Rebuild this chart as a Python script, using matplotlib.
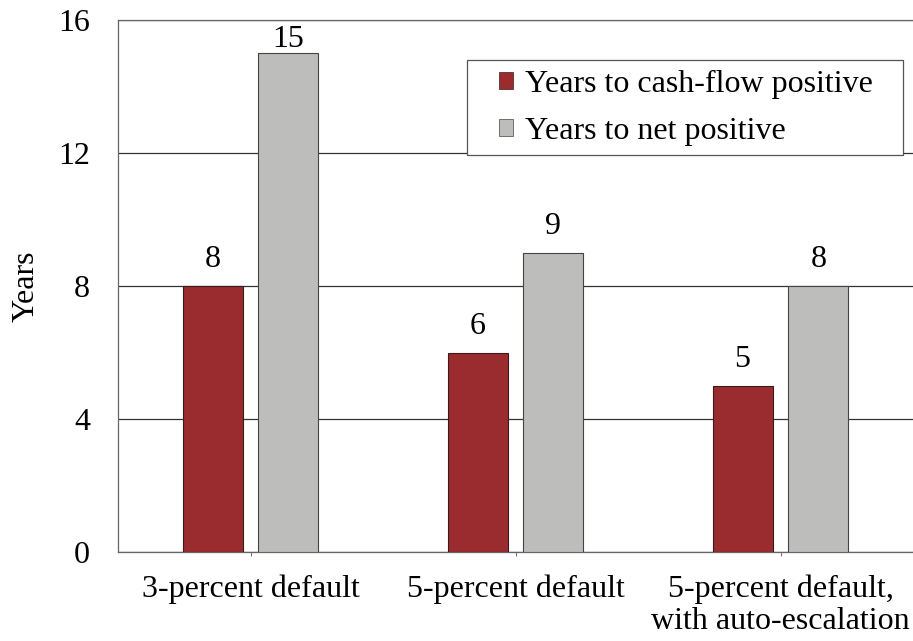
import matplotlib
matplotlib.use("Agg")
import matplotlib.pyplot as plt
from matplotlib.patches import Rectangle
import numpy as np

# Data
categories = ["3-percent default", "5-percent default", "5-percent default,\nwith auto-escalation"]
cash_flow_positive = [8, 6, 5]
net_positive = [15, 9, 8]
series_names = ["Years to cash-flow positive", "Years to net positive"]
y_ticks = [0, 4, 8, 12, 16]

RED = '#9a2b2f'
GRAY = '#bdbdbb'
FS = 23
W, H = 913, 641

plt.rcParams['font.family'] = ['Liberation Serif', 'DejaVu Serif']

fig = plt.figure(figsize=(W / 100, H / 100), dpi=100)
ax = fig.add_axes([118 / W, 1 - 552 / H, 795 / W, 532 / H])

x = np.arange(len(categories))
width = 0.226
offset = 0.143

bars1 = ax.bar(x - offset, cash_flow_positive, width, color=RED, edgecolor='#3a1a1a',
               linewidth=0.8, label=series_names[0], zorder=3)
bars2 = ax.bar(x + offset, net_positive, width, color=GRAY, edgecolor='#444444',
               linewidth=0.8, label=series_names[1], zorder=3)

# value labels (the tallest one squeezed under the top line)
for bars in (bars1, bars2):
    for b in bars:
        h = b.get_height()
        ax.text(b.get_x() + b.get_width() / 2, min(h + 0.57, 15.18), str(int(h)),
                ha='center', va='baseline', fontsize=FS)

ax.set_xlim(-0.5, len(categories) - 0.5)
ax.set_ylim(0, 16)
ax.set_yticks(y_ticks)
ax.set_yticklabels([str(t) for t in y_ticks], fontsize=FS)
ax.tick_params(axis='y', length=0, pad=20)
ax.set_xticks(x)
ax.set_xticklabels(categories, fontsize=FS, linespacing=1.15)
ax.tick_params(axis='x', length=3, color='#777777', pad=13)

ax.yaxis.grid(True, color='#333333', linewidth=0.9, zorder=0)
ax.set_axisbelow(True)

ax.spines['right'].set_visible(False)
for side in ['left', 'bottom', 'top']:
    ax.spines[side].set_color('#666666')
    ax.spines[side].set_linewidth(0.9)

ax.set_ylabel("Years", fontsize=FS, labelpad=13)

# legend without its own frame, box drawn separately for wider side padding
leg = fig.legend(handles=[bars1, bars2], labels=series_names, loc='upper left',
                 bbox_to_anchor=(499 / W, 1 - 70 / H), fontsize=FS, frameon=False,
                 handlelength=0.45, handleheight=0.45, handletextpad=0.35,
                 borderpad=0, labelspacing=0.56, borderaxespad=0)
for h in leg.legend_handles:
    h.set_linewidth(0.5)
fig.patches.append(Rectangle((467 / W, 1 - 155 / H), 436 / W, 95 / H,
                             transform=fig.transFigure, facecolor='white',
                             edgecolor='#555555', linewidth=0.9, zorder=4))
leg.set_zorder(5)

fig.savefig("out.png", dpi=100)
